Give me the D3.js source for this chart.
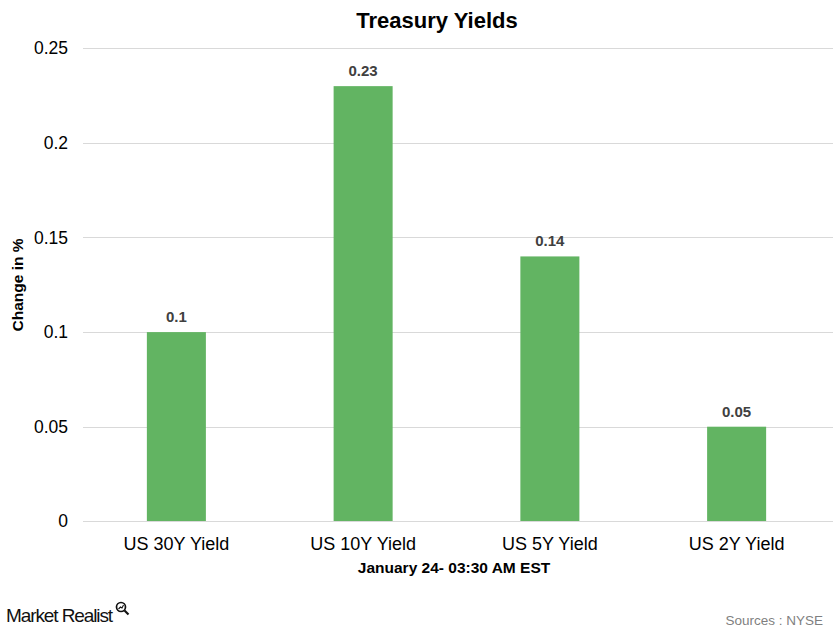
<!DOCTYPE html>
<html><head><meta charset="utf-8">
<script src="https://cdn.jsdelivr.net/npm/d3@7"></script>
<style>body{margin:0;background:#fff}svg{display:block}text{font-family:"Liberation Sans",Arial,sans-serif}</style>
</head><body>
<script>
const categories = ["US 30Y Yield","US 10Y Yield","US 5Y Yield","US 2Y Yield"];
const values = [0.1,0.23,0.14,0.05];
const yTicks = [0,0.05,0.1,0.15,0.2,0.25];
const tickLabels = ["0","0.05","0.1","0.15","0.2","0.25"];

const W=833,H=633;
const svg=d3.select("body").append("svg").attr("width",W).attr("height",H);
const x=d3.scaleBand().domain(categories).range([83,830]).paddingInner(0.684).paddingOuter(0.342);
const y=d3.scaleLinear().domain([0,0.25]).range([521.3,48.3]);

// gridlines
svg.append("g").selectAll("line").data(yTicks).join("line")
  .attr("x1",83).attr("x2",833).attr("y1",d=>Math.round(y(d))+0.5).attr("y2",d=>Math.round(y(d))+0.5)
  .attr("stroke","#d9d9d9").attr("stroke-width",1);
// y tick labels
svg.append("g").selectAll("text").data(yTicks).join("text")
  .attr("x",68).attr("y",d=>y(d)+6).attr("text-anchor","end")
  .attr("font-size",17.5).attr("fill","#000").text((d,i)=>tickLabels[i]);
// bars
svg.append("g").selectAll("rect").data(values).join("rect")
  .attr("x",(d,i)=>x(categories[i])).attr("width",x.bandwidth())
  .attr("y",d=>y(d)).attr("height",d=>y(0)-y(d)).attr("fill","#62b462");
// baseline
svg.append("line").attr("x1",83).attr("x2",833).attr("y1",Math.round(y(0))+0.5).attr("y2",Math.round(y(0))+0.5)
  .attr("stroke","#d9d9d9");
// value labels
svg.append("g").selectAll("text").data(values).join("text")
  .attr("x",(d,i)=>x(categories[i])+x.bandwidth()/2).attr("y",d=>y(d)-10)
  .attr("text-anchor","middle").attr("font-size",15).attr("font-weight","bold").attr("fill","#404040")
  .text(d=>d);
// category labels
svg.append("g").selectAll("text").data(categories).join("text")
  .attr("x",d=>x(d)+x.bandwidth()/2).attr("y",550).attr("text-anchor","middle")
  .attr("font-size",18).attr("fill","#000").text(d=>d);
// titles
svg.append("text").attr("x",437).attr("y",28).attr("text-anchor","middle")
  .attr("font-size",22).attr("font-weight","bold").text("Treasury Yields");
svg.append("text").attr("x",454).attr("y",573).attr("text-anchor","middle")
  .attr("font-size",15.5).attr("font-weight","bold").text("January 24- 03:30 AM EST");
svg.append("text").attr("transform","translate(23,285) rotate(-90)").attr("text-anchor","middle")
  .attr("font-size",15.5).attr("font-weight","bold").text("Change in %");
// footer
svg.append("text").attr("x",823).attr("y",625).attr("text-anchor","end")
  .attr("font-size",13.5).attr("fill","#7f7f7f").text("Sources : NYSE");
const logo=svg.append("g");
logo.append("text").attr("x",6).attr("y",622).attr("font-size",19).attr("font-family","'Open Sans',sans-serif")
  .attr("fill","#111").attr("letter-spacing",-1.1).text("Market Realist");
logo.append("circle").attr("cx",121).attr("cy",607).attr("r",4.5).attr("fill","none").attr("stroke","#111").attr("stroke-width",1.7);
logo.append("path").attr("d","M118.5,609 L120.5,607 L122,608 L123.5,605").attr("fill","none").attr("stroke","#111").attr("stroke-width",1.1);
logo.append("line").attr("x1",124.5).attr("y1",610.5).attr("x2",128.5).attr("y2",614.5).attr("stroke","#111").attr("stroke-width",2.2);
</script>
</body></html>
